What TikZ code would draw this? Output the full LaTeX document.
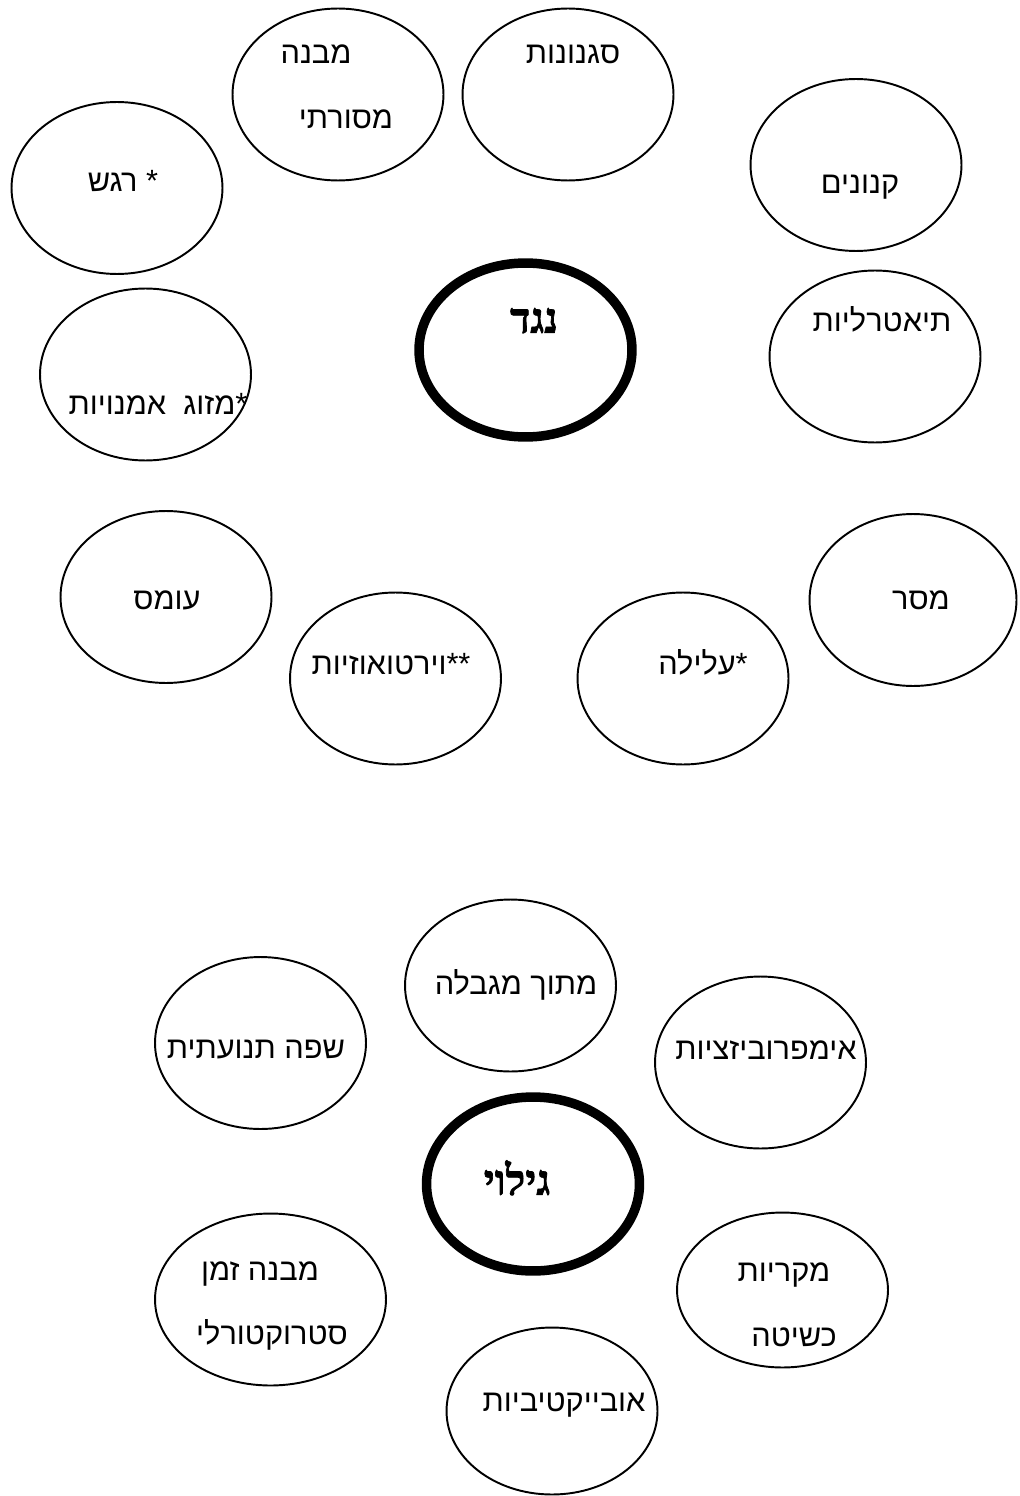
\documentclass[tikz,border=0pt]{standalone}
\usepackage{fontspec}
\usetikzlibrary{shapes.geometric}
\TeXXeTstate=1
\newfontfamily\hebfont[Script=Hebrew]{Liberation Sans}
\newfontfamily\hebserif[Script=Hebrew, BoldFeatures={FakeBold=1.6}]{Liberation Serif}
\newcommand{\hebtxt}[1]{{\hebfont\beginR #1\endR}}
\newcommand{\hebbold}[1]{{\hebserif\bfseries\beginR #1\endR}}

\begin{document}
\begin{tikzpicture}[
  x=0.02cm, y=-0.02cm,
  oval/.style={draw, ellipse, line width=1.1pt, inner sep=0pt,
               minimum width=4.22cm, minimum height=3.44cm},
  core/.style={oval, line width=5.4pt, minimum width=4.26cm, minimum height=3.48cm},
  txt/.style={font=\fontsize{17.5}{20}\selectfont, anchor=mid, inner sep=0pt, yshift=-0.15cm},
  big/.style={font=\fontsize{24}{28}\selectfont, anchor=mid, inner sep=0pt, yshift=-0.18cm},
]
\useasboundingbox (0,0) rectangle (1019,1496);

% ---- upper cluster ----
\node[core] (neged) at (525.5,350) {};
\node[oval] (mivne) at (338,94.5) {};
\node[oval] (signon) at (568,94.5) {};
\node[oval] (regesh) at (117,188) {};
\node[oval] (kanon) at (856,165) {};
\node[oval] (teatr) at (875,356.5) {};
\node[oval] (mizug) at (145.5,374.5) {};
\node[oval] (omes) at (166,597) {};
\node[oval] (virt) at (395.5,678.5) {};
\node[oval] (alila) at (683,678.5) {};
\node[oval, minimum width=4.14cm] (meser) at (913,600) {};

\node[big] (neged-t) at (534,320) {\hebbold{נגד}};
\node[txt] (mivne-a) at (316,52) {\hebtxt{מבנה}};
\node[txt] (mivne-b) at (346,117) {\hebtxt{מסורתי}};
\node[txt] (signon-t) at (573,52) {\hebtxt{סגנונות}};
\node[txt] (regesh-t) at (123,180) {\hebtxt{* רגש}};
\node[txt] (kanon-t) at (860,182) {\hebtxt{קנונים}};
\node[txt] (teatr-t) at (882,320) {\hebtxt{תיאטרליות}};
\node[txt] (mizug-t) at (158,403) {\hebtxt{*מזוג\ \ אמנויות}};
\node[txt] (omes-t) at (167,598) {\hebtxt{עומס}};
\node[txt] (virt-t) at (391,663) {\hebtxt{**וירטואוזיות}};
\node[txt] (alila-t) at (703,663) {\hebtxt{*עלילה}};
\node[txt] (meser-t) at (921,598) {\hebtxt{מסר}};

% ---- lower cluster ----
\node[core] (gilui) at (533,1184) {};
\node[oval] (safa) at (260.5,1043) {};
\node[oval] (mitoch) at (510.5,985.5) {};
\node[oval] (impro) at (760.5,1062.5) {};
\node[oval, minimum width=4.62cm] (zman) at (270.5,1299.5) {};
\node[oval, minimum height=3.34cm] (obj) at (552,1411) {};
\node[oval, minimum height=3.1cm] (mikri) at (782.5,1290) {};

\node[big] (gilui-t) at (517,1182) {\hebbold{גילוי}};
\node[txt] (safa-t) at (256,1047) {\hebtxt{שפה תנועתית}};
\node[txt] (mitoch-t) at (516,983) {\hebtxt{מתוך מגבלה}};
\node[txt] (impro-t) at (766,1048) {\hebtxt{אימפרוביזציות}};
\node[txt] (zman-a) at (260,1269) {\hebtxt{מבנה זמן}};
\node[txt] (zman-b) at (272,1333) {\hebtxt{סטרוקטורלי}};
\node[txt] (obj-t) at (564,1400) {\hebtxt{אובייקטיביות}};
\node[txt] (mikri-a) at (784,1270) {\hebtxt{מקריות}};
\node[txt] (mikri-b) at (794,1335) {\hebtxt{כשיטה}};
\end{tikzpicture}
\end{document}
